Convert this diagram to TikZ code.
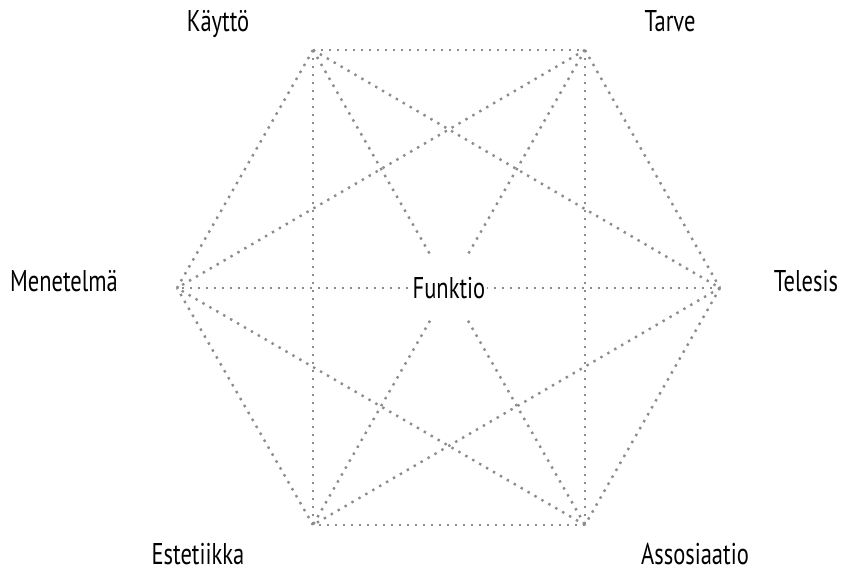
\documentclass[tikz,border=0pt]{standalone}
\usepackage{fontspec}
\setmainfont[FakeStretch=0.75]{PT Sans}

\begin{document}
\begin{tikzpicture}[x=0.5pt,y=-0.5pt]
  \tikzset{
    edge/.style={gray!90,line width=1.2pt,dash pattern=on 1.2pt off 2.8pt},
    lbl/.style={font=\fontsize{15}{18}\selectfont,inner sep=1pt}
  }
  \useasboundingbox (0,0) rectangle (842,571);
  % corners of the hexagon
  \coordinate (kayt) at (313,50);
  \coordinate (tarv) at (585,50);
  \coordinate (tele) at (720,288);
  \coordinate (asso) at (585,525);
  \coordinate (este) at (313,525);
  \coordinate (mene) at (177,288);
  % every pair is joined
  \foreach \a/\b in {kayt/tarv,kayt/tele,kayt/asso,kayt/este,kayt/mene,
                     tarv/tele,tarv/asso,tarv/este,tarv/mene,
                     tele/asso,tele/este,tele/mene,
                     asso/este,asso/mene,este/mene} {
    \draw[edge] (\a) -- (\b);
  }
  \node[lbl,fill=white,minimum width=36pt,minimum height=32.5pt] (funk) at (449,288) {Funktio};
  \node[lbl,anchor=base] (lkayt) at (218,32) {Käyttö};
  \node[lbl,anchor=base] (ltarv) at (670,32) {Tarve};
  \node[lbl,anchor=base] (ltele) at (806,292) {Telesis};
  \node[lbl,anchor=base] (lasso) at (695,565) {Assosiaatio};
  \node[lbl,anchor=base] (leste) at (198,565) {Estetiikka};
  \node[lbl,anchor=base] (lmene) at (64,292) {Menetelmä};
\end{tikzpicture}
\end{document}
